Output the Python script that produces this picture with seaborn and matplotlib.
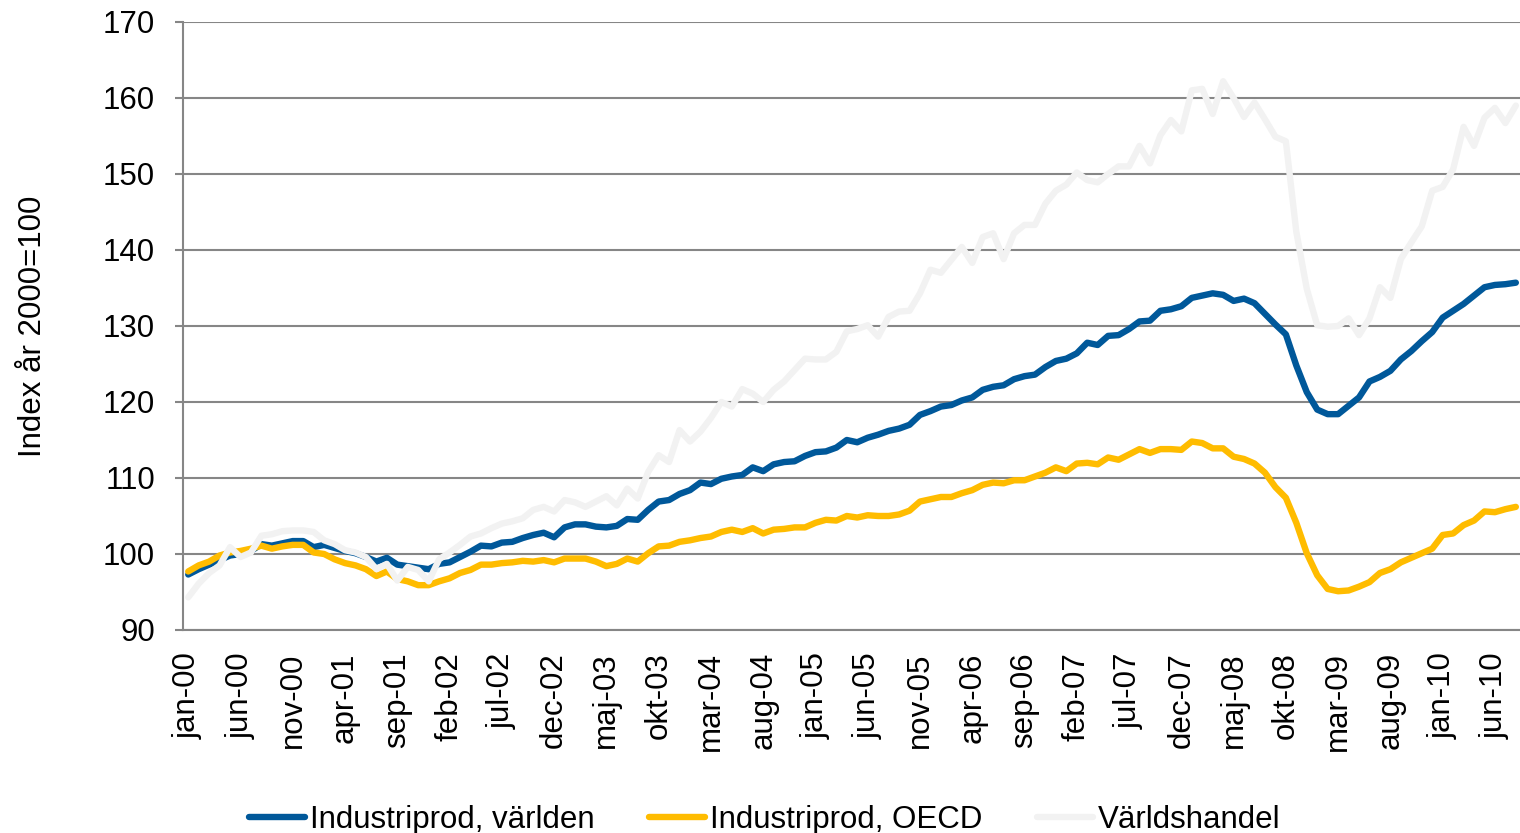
import numpy as np
import pandas as pd
import seaborn as sns
import matplotlib.pyplot as plt

# monthly index, jan-00 .. aug-10 (2000 = 100)
prod_world = [
    97.3, 98.0, 98.6, 99.2, 99.8, 100.0, 100.4, 101.3, 101.1, 101.4, 101.7, 101.7,
    100.9, 101.2, 100.8, 100.4, 100.1, 99.6, 99.0, 99.5, 98.6, 98.4, 98.2, 98.0,
    98.7, 98.9, 99.6, 100.3, 101.1, 101.0, 101.5, 101.6, 102.1, 102.5, 102.8, 102.2,
    103.5, 103.9, 103.9, 103.6, 103.5, 103.7, 104.6, 104.5, 105.8, 106.9, 107.1, 107.9,
    108.4, 109.4, 109.2, 109.9, 110.2, 110.4, 111.4, 110.9, 111.8, 112.1, 112.2, 112.9,
    113.4, 113.5, 114.0, 115.0, 114.7, 115.3, 115.7, 116.2, 116.5, 117.0, 118.3, 118.8,
    119.4, 119.6, 120.2, 120.6, 121.6, 122.0, 122.2, 123.0, 123.4, 123.6, 124.6, 125.4,
    125.7, 126.4, 127.8, 127.5, 128.7, 128.8, 129.6, 130.6, 130.7, 132.0, 132.2, 132.6,
    133.7, 134.0, 134.3, 134.1, 133.3, 133.6, 133.0, 131.6, 130.2, 128.9, 124.8, 121.3,
    119.0, 118.4, 118.4, 119.5, 120.6, 122.7, 123.3, 124.1, 125.6, 126.7, 128.0, 129.2,
    131.1, 132.0, 132.9, 134.0, 135.1, 135.4, 135.5, 135.7,
]
prod_oecd = [
    97.7, 98.5, 99.0, 99.8, 100.2, 100.4, 100.7, 101.1, 100.7, 101.0, 101.2, 101.2,
    100.2, 100.0, 99.3, 98.8, 98.5, 98.0, 97.1, 97.7, 96.7, 96.4, 95.9, 95.9,
    96.4, 96.8, 97.5, 97.9, 98.6, 98.6, 98.8, 98.9, 99.1, 99.0, 99.2, 98.9,
    99.4, 99.4, 99.4, 99.0, 98.4, 98.7, 99.4, 99.0, 100.1, 101.0, 101.1, 101.6,
    101.8, 102.1, 102.3, 102.9, 103.2, 102.9, 103.4, 102.7, 103.2, 103.3, 103.5, 103.5,
    104.1, 104.5, 104.4, 105.0, 104.8, 105.1, 105.0, 105.0, 105.2, 105.7, 106.9, 107.2,
    107.5, 107.5, 108.0, 108.4, 109.1, 109.4, 109.3, 109.7, 109.7, 110.2, 110.7, 111.4,
    110.9, 111.9, 112.0, 111.8, 112.7, 112.4, 113.1, 113.8, 113.3, 113.8, 113.8, 113.7,
    114.8, 114.6, 113.9, 113.9, 112.8, 112.5, 111.9, 110.7, 108.8, 107.4, 104.1, 100.1,
    97.2, 95.4, 95.1, 95.2, 95.7, 96.3, 97.5, 98.0, 98.9, 99.5, 100.1, 100.7,
    102.5, 102.7, 103.8, 104.4, 105.6, 105.5, 105.9, 106.2,
]
world_trade = [
    94.3, 96.1, 97.5, 98.5, 100.9, 99.6, 100.2, 102.4, 102.6, 103.0, 103.1, 103.1,
    102.9, 101.8, 101.3, 100.5, 100.2, 99.6, 98.0, 98.7, 96.5, 98.3, 97.9, 96.4,
    99.3, 100.2, 101.2, 102.3, 102.7, 103.4, 104.0, 104.3, 104.7, 105.8, 106.2, 105.6,
    107.1, 106.8, 106.2, 106.9, 107.6, 106.4, 108.6, 107.3, 110.8, 113.0, 112.1, 116.3,
    114.8, 116.1, 117.9, 120.0, 119.4, 121.7, 121.1, 120.0, 121.6, 122.7, 124.2, 125.7,
    125.6, 125.6, 126.6, 129.3, 129.6, 130.1, 128.6, 131.2, 131.9, 132.0, 134.3, 137.4,
    137.0, 138.7, 140.4, 138.3, 141.7, 142.2, 138.8, 142.2, 143.3, 143.3, 146.1, 147.8,
    148.6, 150.2, 149.2, 148.9, 150.0, 151.0, 151.0, 153.7, 151.4, 155.1, 157.1, 155.6,
    161.0, 161.2, 157.9, 162.2, 160.0, 157.5, 159.4, 157.2, 154.9, 154.3, 142.4, 134.9,
    130.1, 129.9, 130.0, 131.0, 128.8, 131.0, 135.1, 133.7, 138.8, 141.0, 143.1, 147.8,
    148.3, 150.6, 156.2, 153.7, 157.4, 158.7, 156.7, 159.0,
]

series_names = ["Industriprod, världen", "Industriprod, OECD", "Världshandel"]
colors = ["#00589A", "#FFBC00", "#F2F2F2"]

tick_labels = [
    "jan-00", "jun-00", "nov-00", "apr-01", "sep-01", "feb-02", "jul-02",
    "dec-02", "maj-03", "okt-03", "mar-04", "aug-04", "jan-05", "jun-05",
    "nov-05", "apr-06", "sep-06", "feb-07", "jul-07", "dec-07", "maj-08",
    "okt-08", "mar-09", "aug-09", "jan-10", "jun-10",
]

n = len(prod_world)
df = pd.DataFrame({
    "month": np.tile(np.arange(n), 3),
    "value": prod_world + prod_oecd + world_trade,
    "serie": np.repeat(series_names, n),
})

sns.set_style("white")
plt.rcParams["font.family"] = ["Liberation Sans", "DejaVu Sans"]
plt.rcParams["text.color"] = "black"
plt.rcParams["xtick.labelcolor"] = "black"
plt.rcParams["ytick.labelcolor"] = "black"
plt.rcParams["axes.labelcolor"] = "black"

fs = 22.5
lw = 4.6
grey = "#868686"
fig = plt.figure(figsize=(15.2, 8.33), dpi=100)
ax = fig.add_axes([0.1204, 0.2437, 0.8803, 0.7299])

sns.lineplot(data=df, x="month", y="value", hue="serie", hue_order=series_names,
             palette=colors, linewidth=lw, ax=ax, legend=False,
             solid_joinstyle="round", solid_capstyle="round")

ax.set_xlim(-0.5, n - 0.5)
ax.set_ylim(90, 170)
ax.set_yticks(range(90, 171, 10))
ax.yaxis.grid(True, color=grey, linewidth=1.5)
ax.set_axisbelow(True)

ax.set_xticks(range(0, n, 5))
ax.set_xticklabels(tick_labels, rotation=90, fontsize=fs)
ax.set_xticks(np.arange(-0.5, n, 5), minor=True)
ax.tick_params(axis="x", which="major", length=0, pad=16)
ax.tick_params(axis="x", which="minor", length=7.5, width=1.5, color=grey, direction="out")
ax.tick_params(axis="y", which="major", length=6, width=1.5, color=grey,
               direction="out", labelsize=fs, pad=14, left=True)

for s in ["top", "right"]:
    ax.spines[s].set_visible(False)
for s in ["left", "bottom"]:
    ax.spines[s].set_color(grey)
    ax.spines[s].set_linewidth(1.5)

ax.set_xlabel("")
ax.set_ylabel("Index år 2000=100", fontsize=fs)
ax.yaxis.set_label_coords(-0.101, 0.5)

handles = [plt.Line2D([], [], color=c, linewidth=lw) for c in colors]
fig.legend(handles, series_names, loc="center", bbox_to_anchor=(0.503, 0.016),
           ncol=3, frameon=False, fontsize=fs, handlelength=1.8,
           handletextpad=0.15, columnspacing=1.75)

fig.savefig("out.png", dpi=100)
